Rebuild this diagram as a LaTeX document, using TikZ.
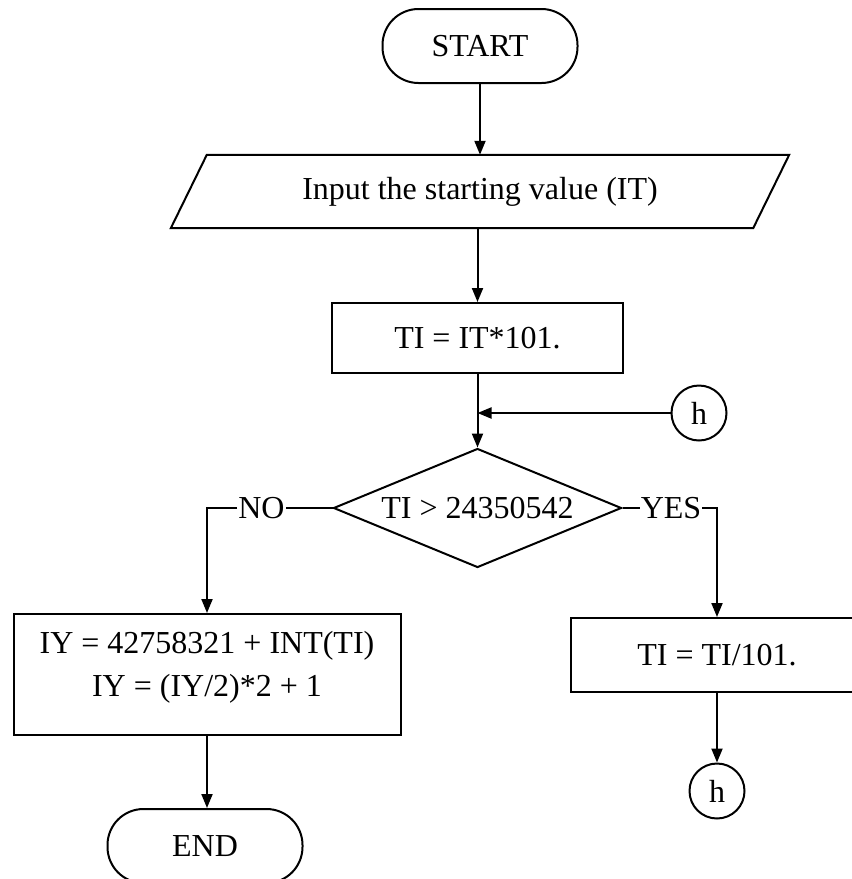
\documentclass[tikz,border=0pt]{standalone}
\usepackage{fontspec}
\setmainfont{Liberation Serif}
\usetikzlibrary{shapes.geometric,arrows.meta}
\begin{document}
\begin{tikzpicture}[x=1pt,y=-1pt,
  every node/.style={font=\fontsize{32}{38}\selectfont, inner sep=0pt},
  line/.style={line width=2pt},
  arr/.style={line, -{Triangle[length=14pt,width=11pt]}},
  term/.style={draw, line width=2pt, rounded corners=36pt, minimum width=195pt, minimum height=74pt},
  proc/.style={draw, line width=2pt, rectangle},
  conn/.style={draw, circle, line width=2pt, minimum size=55pt},
  decision/.style={draw, diamond, line width=2pt, aspect=2.4, minimum width=288pt, minimum height=119pt},
  lbl/.style={inner xsep=1pt}]
\useasboundingbox (0,0) rectangle (852,879);
\clip (0,0) rectangle (852,879);
\fill[white] (0,0) rectangle (852,879);

% nodes
\node[term] (start) at (480,46) {START};
\node[minimum width=582pt, minimum height=73pt] (inp) at (480,191.5) {Input the starting value (IT)};
\draw[line] ([xshift=18pt]inp.north west) -- ([xshift=18pt]inp.north east)
  -- ([xshift=-18pt]inp.south east) -- ([xshift=-18pt]inp.south west) -- cycle;
\node[proc, minimum width=291pt, minimum height=70pt] (p1) at (477.5,338) {TI = IT*101.};
\node[conn] (h1) at (699,413) {h};
\coordinate (j) at (p1.south |- h1);
\node[decision] (dec) at (477.5,508) {TI > 24350542};
\node[lbl] (no) at (261.5,508) {NO};
\node[lbl] (yes) at (671,508) {YES};
\node[proc, minimum width=387pt, minimum height=121pt] (p2) at (207,674.5) {};
\node[align=center, font=\fontsize{32}{43}\selectfont] (p2t) at (207,667) {IY = 42758321 + INT(TI)\\IY = (IY/2)*2 + 1};
\node[proc, minimum width=292pt, minimum height=74pt] (p3) at (717,655) {TI = TI/101.};
\node[conn] (h2) at (717,791) {h};
\node[term] (end) at (205,846) {END};

% connectors
\draw[arr] (start.south -| inp.north) -- (inp.north);
\draw[arr] (inp.south -| p1.north) -- (p1.north);
\draw[line] (p1.south) -- (j);
\draw[arr] (j) -- (dec.north);
\draw[arr] (h1) -- (j);
\draw[line] (dec.west) -- (no.east);
\draw[arr] (no.west) -| (p2.north);
\draw[line] (dec.east) -- (yes.west);
\draw[arr] (yes.east) -| (p3.north);
\draw[arr] (p3.south) -- (h2.north);
\draw[arr] (p2.south) -- (p2.south |- end.north);
\end{tikzpicture}
\end{document}
